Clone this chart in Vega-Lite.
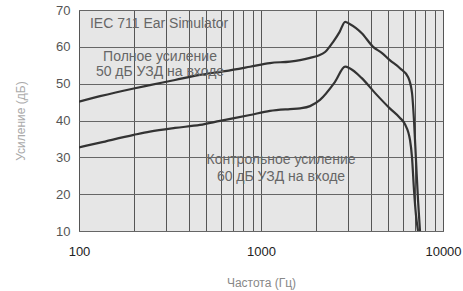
{
  "$schema": "https://vega.github.io/schema/vega-lite/v6.json",
  "width": 364,
  "height": 221,
  "autosize": "none",
  "padding": {"left": 79, "top": 10, "right": 20, "bottom": 60},
  "background": "white",
  "config": {
    "font": "Liberation Sans",
    "view": {"fill": "#e6e6e6", "stroke": "#555555", "strokeWidth": 1}
  },
  "encoding": {
    "x": {
      "field": "freq",
      "type": "quantitative",
      "scale": {"type": "log", "domain": [100, 10000], "nice": false},
      "axis": {
        "title": "Частота (Гц)",
        "titleFontWeight": "normal",
        "titleFontSize": 12,
        "titleColor": "#888888",
        "titleBaseline": "middle",
        "titleY": 51,
        "values": [100, 200, 300, 400, 500, 600, 700, 800, 900, 1000, 2000, 3000, 4000, 5000, 6000, 7000, 8000, 9000, 10000],
        "format": "d",
        "labelExpr": "(datum.value == 100 || datum.value == 1000 || datum.value == 10000) ? datum.label : ''",
        "labelFontSize": 13,
        "labelColor": "#222222",
        "labelPadding": 14,
        "labelFlush": false,
        "labelOverlap": false,
        "ticks": false,
        "domain": false,
        "grid": true,
        "gridColor": "#555555",
        "gridOpacity": 1,
        "gridWidth": 1
      }
    },
    "y": {
      "field": "gain",
      "type": "quantitative",
      "scale": {"domain": [10, 70], "nice": false, "zero": false},
      "axis": {
        "title": "Усиление (дБ)",
        "titleFontWeight": "normal",
        "titleFontSize": 12,
        "titleColor": "#aaaaaa",
        "titlePadding": 28,
        "values": [10, 20, 30, 40, 50, 60, 70],
        "tickCount": 7,
        "labelFontSize": 13,
        "labelColor": "#555555",
        "labelPadding": 9,
        "labelOverlap": false,
        "labelFlush": false,
        "ticks": false,
        "domain": false,
        "grid": true,
        "gridColor": "#666666",
        "gridOpacity": 1,
        "gridWidth": 1
      }
    }
  },
  "layer": [
    {
      "data": {
        "values": [
          {"series": "full", "freq": 100, "gain": 45.1},
          {"series": "full", "freq": 130.5, "gain": 46.6},
          {"series": "full", "freq": 200, "gain": 48.7},
          {"series": "full", "freq": 245, "gain": 49.6},
          {"series": "full", "freq": 337, "gain": 51.0},
          {"series": "full", "freq": 462, "gain": 52.4},
          {"series": "full", "freq": 634, "gain": 53.4},
          {"series": "full", "freq": 870, "gain": 54.6},
          {"series": "full", "freq": 1120, "gain": 55.6},
          {"series": "full", "freq": 1442, "gain": 56.0},
          {"series": "full", "freq": 1640, "gain": 56.4},
          {"series": "full", "freq": 1860, "gain": 57.0},
          {"series": "full", "freq": 2056, "gain": 57.6},
          {"series": "full", "freq": 2250, "gain": 58.6},
          {"series": "full", "freq": 2487, "gain": 61.3},
          {"series": "full", "freq": 2700, "gain": 64.0},
          {"series": "full", "freq": 2900, "gain": 66.8},
          {"series": "full", "freq": 3070, "gain": 66.2},
          {"series": "full", "freq": 3327, "gain": 65.1},
          {"series": "full", "freq": 3580, "gain": 63.7},
          {"series": "full", "freq": 4130, "gain": 60.0},
          {"series": "full", "freq": 4625, "gain": 58.3},
          {"series": "full", "freq": 5100, "gain": 56.4},
          {"series": "full", "freq": 5800, "gain": 54.2},
          {"series": "full", "freq": 6424, "gain": 51.8},
          {"series": "full", "freq": 6756, "gain": 47.5},
          {"series": "full", "freq": 6929, "gain": 40.0},
          {"series": "full", "freq": 7105, "gain": 29.3},
          {"series": "full", "freq": 7290, "gain": 18.4},
          {"series": "full", "freq": 7474, "gain": 10.0},
          {"series": "control", "freq": 100, "gain": 32.7},
          {"series": "control", "freq": 130.5, "gain": 34.0},
          {"series": "control", "freq": 200, "gain": 36.1},
          {"series": "control", "freq": 245, "gain": 37.0},
          {"series": "control", "freq": 337, "gain": 38.0},
          {"series": "control", "freq": 462, "gain": 38.8},
          {"series": "control", "freq": 596, "gain": 39.9},
          {"series": "control", "freq": 870, "gain": 41.5},
          {"series": "control", "freq": 1120, "gain": 42.6},
          {"series": "control", "freq": 1442, "gain": 43.1},
          {"series": "control", "freq": 1640, "gain": 43.3},
          {"series": "control", "freq": 1860, "gain": 43.9},
          {"series": "control", "freq": 2109, "gain": 45.6},
          {"series": "control", "freq": 2551, "gain": 50.5},
          {"series": "control", "freq": 2900, "gain": 54.6},
          {"series": "control", "freq": 3070, "gain": 54.2},
          {"series": "control", "freq": 3580, "gain": 51.5},
          {"series": "control", "freq": 4227, "gain": 47.5},
          {"series": "control", "freq": 5100, "gain": 43.3},
          {"series": "control", "freq": 5803, "gain": 40.7},
          {"series": "control", "freq": 6180, "gain": 39.0},
          {"series": "control", "freq": 6588, "gain": 34.7},
          {"series": "control", "freq": 6756, "gain": 30.0},
          {"series": "control", "freq": 6929, "gain": 21.1},
          {"series": "control", "freq": 7105, "gain": 14.3},
          {"series": "control", "freq": 7290, "gain": 10.0}
        ]
      },
      "mark": {"type": "line", "color": "#333333", "strokeWidth": 2.2, "clip": true, "interpolate": "monotone"},
      "encoding": {
        "detail": {"field": "series"}
      }
    },
    {
      "data": {"values": [{"freq": 114.9, "gain": 66.2, "label": "IEC 711 Ear Simulator"}]},
      "mark": {"type": "text", "align": "left", "baseline": "middle", "fontSize": 14, "color": "#666666"},
      "encoding": {
        "text": {"field": "label"}
      }
    },
    {
      "data": {
        "values": [
          {"freq": 278.7, "gain": 57.24, "label": "Полное усиление\n50 дБ УЗД на входе"}
        ]
      },
      "mark": {"type": "text", "align": "center", "baseline": "middle", "fontSize": 14, "color": "#666666", "lineBreak": "\n", "lineHeight": 15},
      "encoding": {
        "text": {"field": "label"}
      }
    },
    {
      "data": {
        "values": [
          {"freq": 1288, "gain": 29.27, "label": "Контрольное усиление\n60 дБ УЗД на входе"}
        ]
      },
      "mark": {"type": "text", "align": "center", "baseline": "middle", "fontSize": 14, "color": "#666666", "lineBreak": "\n", "lineHeight": 17},
      "encoding": {
        "text": {"field": "label"}
      }
    }
  ]
}
